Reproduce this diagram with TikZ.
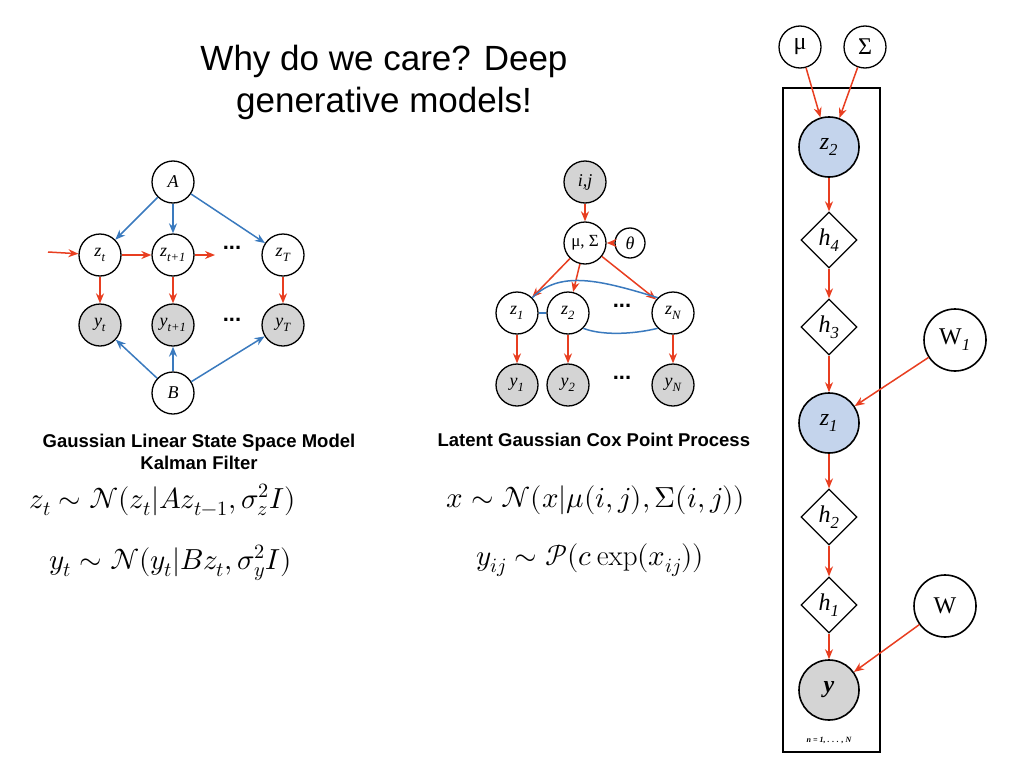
\documentclass[tikz,border=0pt]{standalone}
\usepackage{fontspec}
\setmainfont{Liberation Sans}
\usepackage{unicode-math}
\setmathfont{Latin Modern Math}
\setmathrm{Latin Modern Roman}
\usetikzlibrary{shapes.geometric,arrows.meta}
\newfontfamily\serifit{Liberation Serif}[Scale=1.0]
\definecolor{rd}{RGB}{232,62,32}
\definecolor{bl}{RGB}{58,122,190}
\definecolor{gr}{RGB}{212,212,212}
\definecolor{lb}{RGB}{196,212,236}
\begin{document}
\begin{tikzpicture}[x=1pt,y=-1pt,
 v/.style={circle,draw,line width=1.3pt,fill=white,minimum size=42pt,inner sep=0pt,font=\serifit\itshape\fontsize{18}{18}\selectfont},
 o/.style={v,fill=gr},
 bv/.style={circle,draw,line width=1.6pt,minimum size=60pt,inner sep=0pt,font=\serifit\itshape\fontsize{24}{24}\selectfont},
 dm/.style={diamond,draw,line width=1.3pt,fill=white,minimum size=56pt,inner sep=0pt,font=\serifit\itshape\fontsize{24}{24}\selectfont},
 ra/.style={rd,line width=1.5pt,-{Stealth[length=10pt,width=8pt]}},
 ba/.style={bl,line width=1.5pt,-{Stealth[length=10pt,width=8pt]}},
 dots/.style={font=\bfseries\fontsize{22}{22}\selectfont},
 captxt/.style={font=\bfseries\fontsize{18.5}{22}\selectfont,align=center},
 eq/.style={font=\fontsize{29}{34}\selectfont,anchor=west}]
\useasboundingbox (0,0) rectangle (1024,768);
\node[font=\fontsize{35}{42}\selectfont,align=center] (title) at (384,82) {Why do we care? Deep\\generative models!};
% left graph
\node[v] (A) at (173,182) {A};
\node[v] (zt) at (100,255) {z\textsubscript{t}};
\node[v] (zt1) at (173,255) {z\textsubscript{t+1}};
\node[dots] (zd) at (232,248) {...};
\node[v] (zT) at (283,255) {z\textsubscript{T}};
\node[o] (yt) at (100,325) {y\textsubscript{t}};
\node[o] (yt1) at (173,325) {y\textsubscript{t+1}};
\node[dots] (yd) at (232,320) {...};
\node[o] (yT) at (283,325) {y\textsubscript{T}};
\node[v] (B) at (173,393) {B};
\coordinate (in) at (48,252);
\coordinate (out) at (215,255);
\draw[ba] (A)--(zt); \draw[ba] (A)--(zt1); \draw[ba] (A)--(zT);
\draw[ra] (in)--(zt); \draw[ra] (zt)--(zt1); \draw[ra] (zt1)--(out);
\draw[ra] (zt)--(yt); \draw[ra] (zt1)--(yt1); \draw[ra] (zT)--(yT);
\draw[ba] (B)--(yt); \draw[ba] (B)--(yt1); \draw[ba] (B)--(yT);
\node[captxt] (c1) at (199,452) {Gaussian Linear State Space Model\\Kalman Filter};
\node[eq] (e1) at (26,500) {$z_t \sim \mathcal{N}(z_t|Az_{t-1},\sigma_z^2 I)$};
\node[eq] (e2) at (46,563) {$y_t \sim \mathcal{N}(y_t|Bz_t,\sigma_y^2 I)$};
% middle graph
\node[o] (ij) at (585,182) {i,j};
\node[v,font=\serifit\fontsize{17}{17}\selectfont] (ms) at (585,243) {μ, Σ};
\node[v,minimum size=30pt] (th) at (630,243) {θ};
\node[v] (z1) at (517,313) {z\textsubscript{1}};
\node[v] (z2) at (568,313) {z\textsubscript{2}};
\node[dots] (md) at (622,306) {...};
\node[v] (zN) at (673,313) {z\textsubscript{N}};
\node[o] (y1) at (517,385) {y\textsubscript{1}};
\node[o] (y2) at (568,385) {y\textsubscript{2}};
\node[dots] (md2) at (622,378) {...};
\node[o] (yN) at (673,385) {y\textsubscript{N}};
\draw[ra] (ij)--(ms); \draw[ra] (th)--(ms);
\draw[ra] (ms)--(z1); \draw[ra] (ms)--(z2); \draw[ra] (ms)--(zN);
\draw[bl,line width=1.5pt] (z1)--(z2);
\draw[bl,line width=1.5pt] (z1.north east) .. controls (560,270) and (600,280) .. (zN.north west);
\draw[bl,line width=1.5pt] (z2.south east) .. controls (600,335) and (630,335) .. (zN.south west);
\draw[ra] (z1)--(y1); \draw[ra] (z2)--(y2); \draw[ra] (zN)--(yN);
\begin{scope}
\clip (400,420) rectangle (750,470);
\node[captxt,anchor=west] (c2) at (434,440) {Latent Gaussian Cox Point Process};
\end{scope}
\node[eq] (e3) at (443,500) {$x \sim \mathcal{N}(x|\mu(i,j),\Sigma(i,j))$};
\node[eq] (e4) at (473,560) {$y_{ij} \sim \mathcal{P}(c\exp(x_{ij}))$};
% right graph
\draw[line width=1.3pt] (783,88) rectangle (880,752);
\node[v,font=\serifit\fontsize{24}{24}\selectfont] (mu) at (800,47) {μ};
\node[v,font=\serifit\fontsize{24}{24}\selectfont] (Sg) at (865,47) {Σ};
\node[bv,fill=lb] (Z2) at (829,147) {z\textsubscript{2}};
\node[dm] (h4) at (829,240) {h\textsubscript{4}};
\node[dm] (h3) at (829,327) {h\textsubscript{3}};
\node[bv,fill=white,minimum size=62pt,font=\serifit\fontsize{24}{24}\selectfont] (W1) at (955,340) {W\textsubscript{\itshape 1}};
\node[bv,fill=lb] (Z1) at (829,423) {z\textsubscript{1}};
\node[dm] (h2) at (829,517) {h\textsubscript{2}};
\node[dm] (h1) at (829,605) {h\textsubscript{1}};
\node[bv,fill=white,minimum size=62pt,font=\serifit\fontsize{24}{24}\selectfont] (W) at (945,606) {W};
\node[bv,fill=gr,font=\serifit\bfseries\itshape\fontsize{24}{24}\selectfont] (Y) at (829,690) {y};
\node[font=\serifit\bfseries\itshape\fontsize{8}{8}\selectfont] (pl) at (829,740) {n = 1, . . . , N};
\draw[ra] (mu)--(Z2); \draw[ra] (Sg)--(Z2);
\draw[ra] (Z2)--(h4); \draw[ra] (h4)--(h3); \draw[ra] (h3)--(Z1);
\draw[ra] (W1)--(Z1);
\draw[ra] (Z1)--(h2); \draw[ra] (h2)--(h1); \draw[ra] (h1)--(Y);
\draw[ra] (W)--(Y);
\end{tikzpicture}
\end{document}
